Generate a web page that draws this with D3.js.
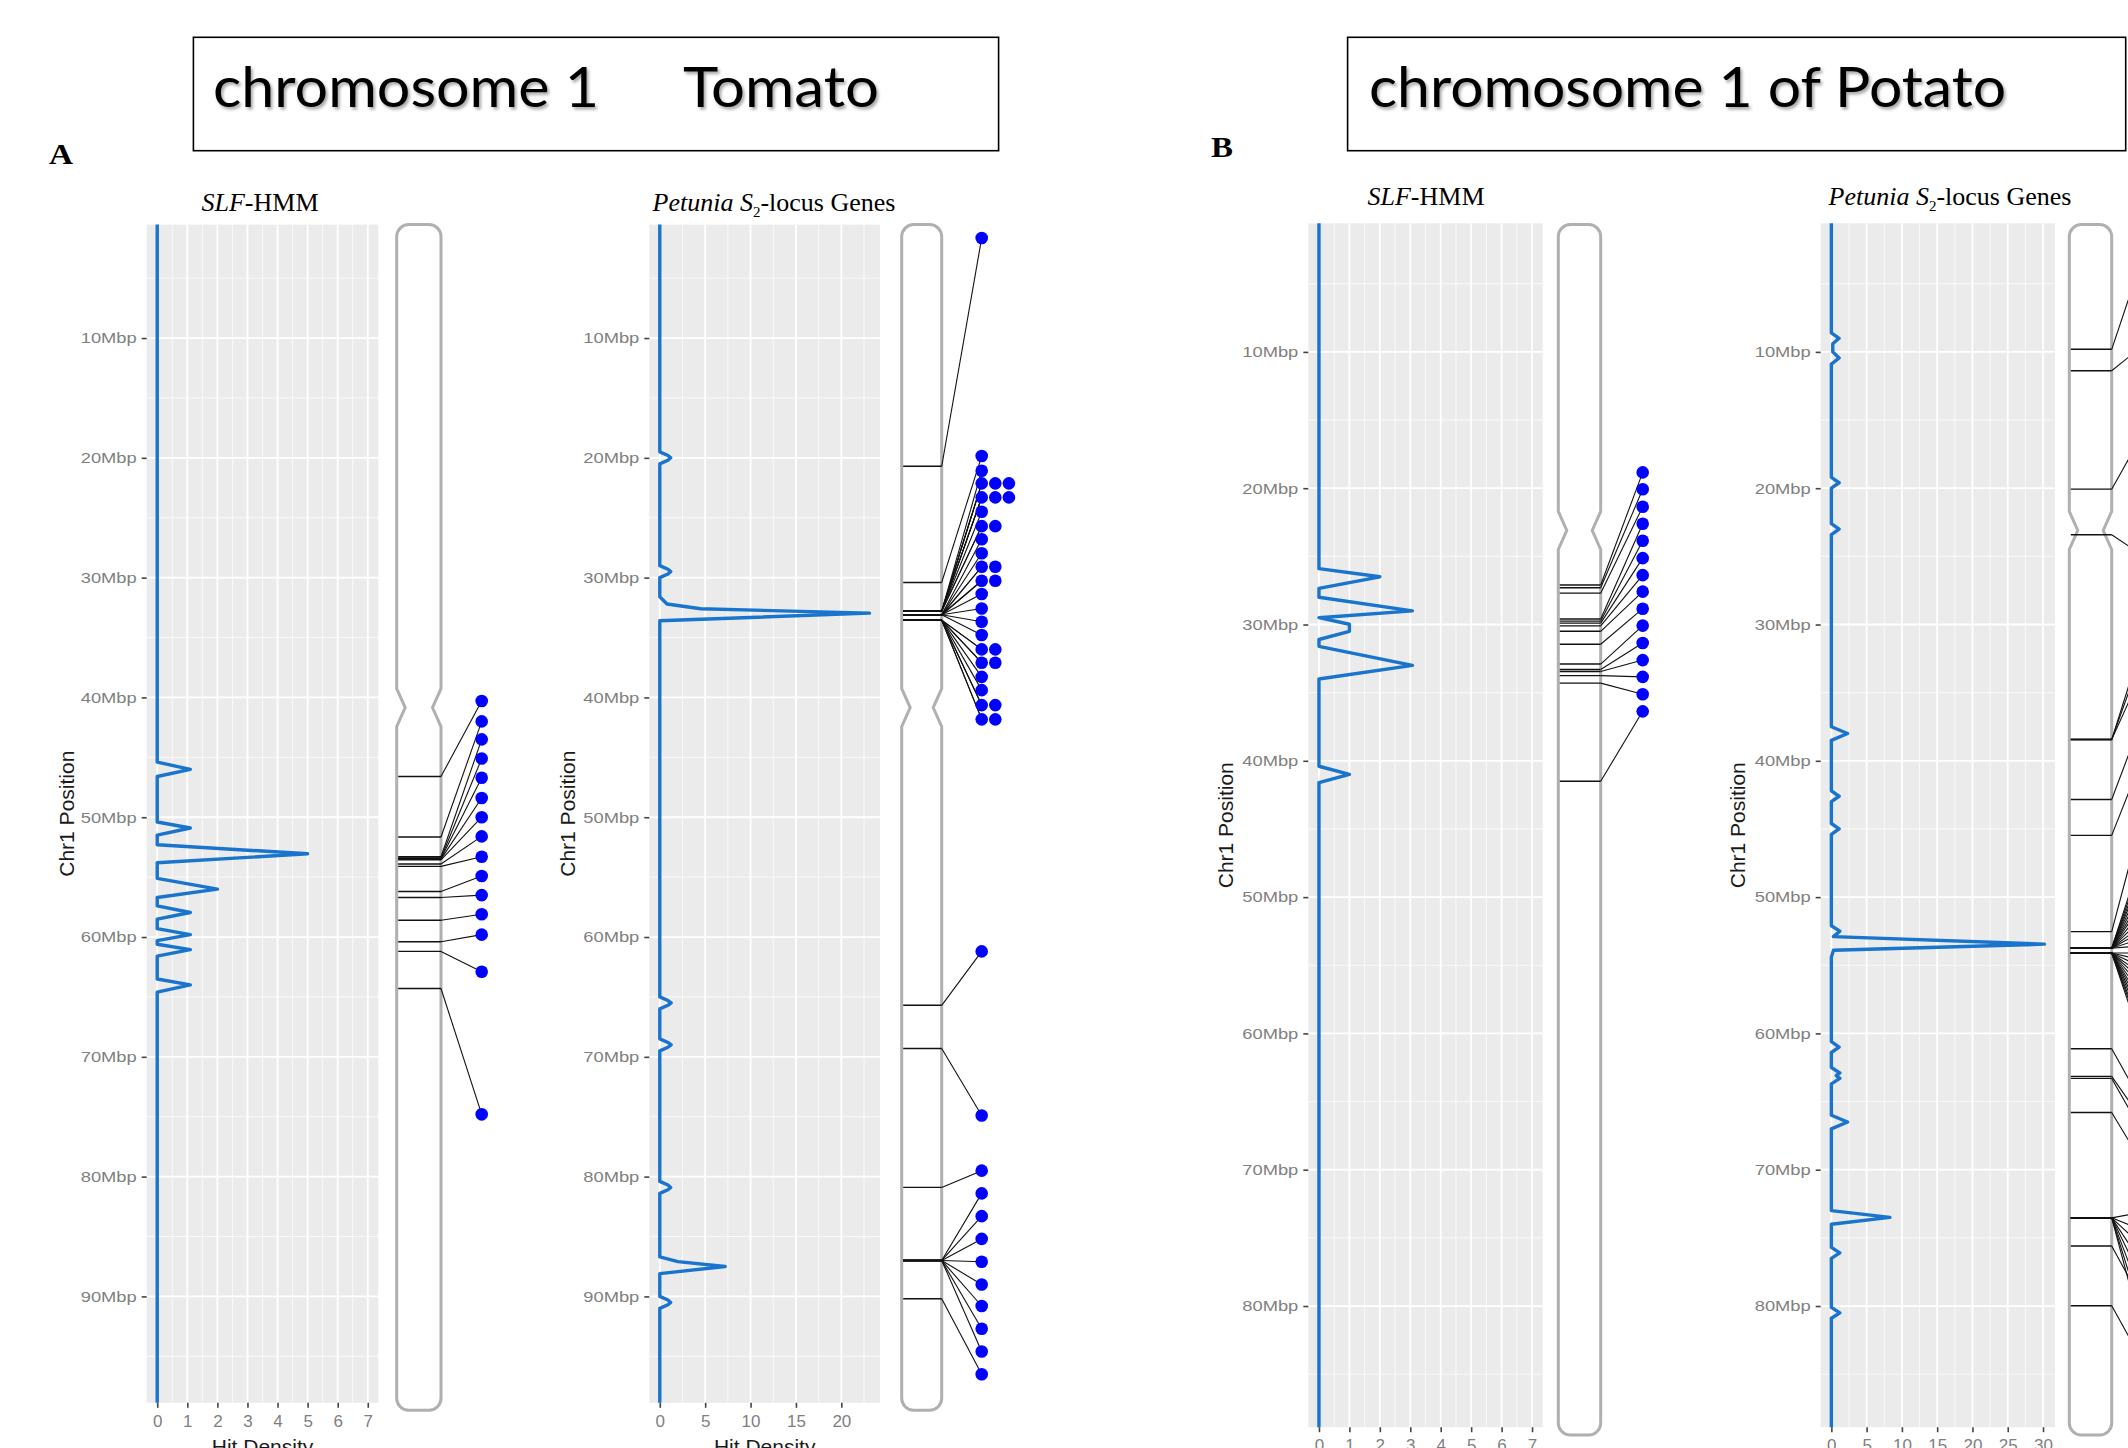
<!DOCTYPE html>
<html>
<head>
<meta charset="utf-8">
<script src="https://cdn.jsdelivr.net/npm/d3@7"></script>
<style>
  html, body { margin: 0; padding: 0; background: #fff; }
  svg { display: block; }
</style>
</head>
<body>
<div id="chart"></div>
<script>
// ---------- Data (positions in Mbp, densities in hits) ----------
const tomatoMbpTicks = [10, 20, 30, 40, 50, 60, 70, 80, 90];
const potatoMbpTicks = [10, 20, 30, 40, 50, 60, 70, 80];
const slfDensityTicks = [0, 1, 2, 3, 4, 5, 6, 7];
const tomatoPetuniaTicks = [0, 5, 10, 15, 20];
const potatoPetuniaTicks = [0, 5, 10, 15, 20, 25, 30];

// [position Mbp, hit density]
const tomatoSlfDensity = [
  [0.5, 0], [45.4, 0], [46.0, 1.1], [46.6, 0], [50.4, 0], [50.9, 1.1], [51.5, 0],
  [52.3, 0], [53.05, 5.0], [53.8, 0], [55.1, 0], [56.0, 2.0], [56.7, 0], [57.4, 0],
  [57.95, 1.1], [58.5, 0], [59.3, 0], [59.8, 1.1], [60.3, 0], [60.6, 0], [61.05, 1.1],
  [61.6, 0], [63.5, 0], [64.0, 1.1], [64.6, 0], [98.9, 0]
];
const tomatoPetuniaDensity = [
  [0.5, 0], [19.5, 0], [19.8, 0.9], [20.0, 1.2], [20.2, 0.9], [20.5, 0], [29.0, 0],
  [29.3, 0.9], [29.5, 1.2], [29.7, 0.9], [30.0, 0], [31.6, 0], [32.2, 0.8], [32.6, 4.5],
  [32.96, 23.1], [33.6, 0], [65.0, 0], [65.3, 0.9], [65.5, 1.25], [65.7, 0.9], [66.0, 0],
  [68.5, 0], [68.8, 0.9], [69.0, 1.25], [69.2, 0.9], [69.5, 0], [80.4, 0], [80.7, 0.9],
  [80.9, 1.2], [81.1, 0.9], [81.4, 0], [86.7, 0], [87.1, 2.0], [87.5, 7.2], [88.1, 0],
  [90.0, 0], [90.3, 0.9], [90.5, 1.2], [90.7, 0.9], [91.0, 0], [98.9, 0]
];
const potatoSlfDensity = [
  [0.6, 0], [25.9, 0], [26.5, 2.0], [27.35, 0], [28.0, 0], [29.0, 3.07], [29.5, 0],
  [29.98, 1.0], [30.5, 1.0], [31.1, 0], [31.6, 0], [33.0, 3.07], [34.0, 0], [40.4, 0],
  [41.0, 1.0], [41.6, 0], [88.9, 0]
];
const potatoPetuniaDensity = [
  [0.6, 0], [8.6, 0], [9.0, 1.1], [9.4, 0.2], [10.0, 0.2], [10.45, 1.1], [10.9, 0],
  [19.2, 0], [19.6, 1.1], [20.0, 0], [22.6, 0], [23.0, 1.1], [23.4, 0], [37.5, 0],
  [38.0, 2.3], [38.5, 0], [42.2, 0], [42.6, 1.1], [43.0, 0], [44.6, 0], [45.0, 1.1],
  [45.4, 0], [52.1, 0], [52.5, 1.2], [52.9, 0.3], [53.45, 30.2], [53.9, 0.3], [54.4, 0],
  [60.6, 0], [61.0, 1.1], [61.4, 0], [62.5, 0], [62.9, 1.2], [63.1, 0.7], [63.3, 1.2],
  [63.7, 0], [66.0, 0], [66.5, 2.3], [67.0, 0], [73.0, 0], [73.5, 8.3], [74.0, 0],
  [75.7, 0], [76.1, 1.2], [76.5, 0], [80.1, 0], [80.5, 1.2], [80.9, 0], [88.9, 0]
];

// gene positions on the chromosome, paired by index with label (dot) positions
const tomatoSlfGenes = [46.6, 51.65, 53.3, 53.4, 53.45, 53.5, 53.55, 53.9, 54.1, 56.2, 56.7, 58.6, 60.4, 61.2, 64.3];
const tomatoSlfLabels = [40.3, 42.0, 43.5, 45.1, 46.7, 48.4, 50.0, 51.6, 53.3, 54.9, 56.5, 58.1, 59.8, 62.9, 74.8];

const tomatoPetuniaGenes = [
  20.7, 30.4,
  32.8, 32.8, 32.8, 32.8, 32.8, 32.8, 32.8, 32.8, 32.8, 32.8,
  33.1, 33.1, 33.1, 33.1, 33.1, 33.1, 33.1, 33.1, 33.1, 33.1,
  33.55, 33.55, 33.55, 33.55, 33.55, 33.55, 33.55, 33.55, 33.55, 33.55,
  65.7, 69.3, 80.9,
  87.0, 87.0, 87.0, 87.0, 87.0, 87.0, 87.0, 87.0,
  90.2
];
const tomatoPetuniaLabels = [
  1.65, 19.85, 21.08, 22.13, 22.13, 22.13, 23.30, 23.30, 23.30, 24.50, 25.70, 25.70,
  26.80, 27.97, 29.09, 29.09, 30.26, 30.26, 31.37, 32.57, 33.68, 34.79, 35.99, 35.99,
  37.10, 37.10, 38.28, 39.39, 40.64, 40.64, 41.83, 41.83,
  61.2, 74.9, 79.5,
  81.4, 83.3, 85.2, 87.1, 89.0, 90.8, 92.7, 94.6,
  96.5
];

const potatoSlfGenes = [27.1, 27.3, 27.7, 29.6, 29.75, 29.9, 30.1, 30.5, 31.45, 32.9, 33.3, 33.45, 33.75, 34.3, 41.5];
const potatoSlfLabels = [18.84, 20.08, 21.36, 22.61, 23.85, 25.13, 26.38, 27.59, 28.84, 30.08, 31.36, 32.61, 33.84, 35.12, 36.37];

const potatoPetuniaGenes = [
  9.81, 11.38, 20.07, 23.41, 38.44, 38.44, 38.44, 42.84, 45.47, 52.53,
  53.75, 53.75, 53.75, 53.75, 53.75, 53.75, 53.75, 53.75, 53.75, 53.75, 53.75, 53.75, 53.75, 53.75,
  54.1, 54.1, 54.1, 54.1, 54.1, 54.1, 54.1, 54.1, 54.1, 54.1, 54.1, 54.1, 54.1, 54.1,
  61.12, 63.15, 63.3, 65.8,
  73.53, 73.53, 73.53, 73.53, 73.53, 73.53, 73.53, 73.53,
  75.6, 79.98
];
const potatoPetuniaLabels = [
  1.0, 9.0, 14.8, 25.4, 29.1, 30.2, 31.9, 35.0, 38.0, 41.4,
  44.7, 45.4, 46.1, 46.7, 47.4, 48.1, 48.8, 49.4, 50.1, 50.8, 51.5, 52.1, 52.8, 53.5,
  54.1, 54.8, 55.5, 56.2, 56.8, 57.5, 58.2, 58.9, 59.5, 60.2, 60.9, 61.6, 62.2, 62.9,
  66.4, 67.4, 68.5, 70.7,
  73.0, 74.7, 76.3, 78.0, 79.6, 81.3, 83.0, 84.6,
  81.0, 85.3
];

// chromosome extents and centromere (Mbp)
const tomatoChrom = { start: 0.53, end: 99.5, centromere: 40.85 };
const potatoChrom = { start: 0.66, end: 89.46, centromere: 23.1 };

// ---------- Layout ----------
const W = 2128, H = 1448;
const blue = "#1874cd";

const yTomato = d3.scaleLinear().domain([0.53, 98.88]).range([224.6, 1402.8]);
const yPotato = d3.scaleLinear().domain([0.565, 88.89]).range([223.3, 1427.2]);

const panels = [
  { id: "a1", y: yTomato, chrom: tomatoChrom, yTicks: tomatoMbpTicks,
    x0: 146.7, x1: 378.3, xDomain: [-0.35, 7.35], xTicks: slfDensityTicks,
    chromL: 396.7, chromR: 441, dotX: 481.7, labelX: 66, titleX: 260, titleY: 211,
    title: "slf", density: tomatoSlfDensity, genes: tomatoSlfGenes, labels: tomatoSlfLabels },
  { id: "a2", y: yTomato, chrom: tomatoChrom, yTicks: tomatoMbpTicks,
    x0: 649.3, x1: 880, xDomain: [-1.155, 24.26], xTicks: tomatoPetuniaTicks,
    chromL: 901.7, chromR: 941.7, dotX: 981.7, labelX: 567, titleX: 774, titleY: 211,
    title: "petunia", density: tomatoPetuniaDensity, genes: tomatoPetuniaGenes, labels: tomatoPetuniaLabels },
  { id: "b1", y: yPotato, chrom: potatoChrom, yTicks: potatoMbpTicks,
    x0: 1308.3, x1: 1542.7, xDomain: [-0.35, 7.35], xTicks: slfDensityTicks,
    chromL: 1558.3, chromR: 1600.7, dotX: 1642.7, labelX: 1225, titleX: 1426, titleY: 204.5,
    title: "slf", density: potatoSlfDensity, genes: potatoSlfGenes, labels: potatoSlfLabels },
  { id: "b2", y: yPotato, chrom: potatoChrom, yTicks: potatoMbpTicks,
    x0: 1820.7, x1: 2055, xDomain: [-1.51, 31.7], xTicks: potatoPetuniaTicks,
    chromL: 2069.3, chromR: 2111.7, dotX: 2152, labelX: 1737, titleX: 1950, titleY: 204.5,
    title: "petunia", density: potatoPetuniaDensity, genes: potatoPetuniaGenes, labels: potatoPetuniaLabels }
];

// ---------- SVG ----------
const svg = d3.select("#chart")
  .append("svg")
  .attr("width", W)
  .attr("height", H)
  .attr("viewBox", `0 0 ${W} ${H}`)
  .style("font-family", "'Liberation Sans', Arial, sans-serif");

svg.append("rect").attr("width", W).attr("height", H).attr("fill", "#fff");

const defs = svg.append("defs");
defs.append("filter")
  .attr("id", "shadow")
  .attr("x", "-5%").attr("y", "-20%").attr("width", "115%").attr("height", "150%")
  .append("feDropShadow")
  .attr("dx", 2).attr("dy", 2.5).attr("stdDeviation", 1.6)
  .attr("flood-color", "#000").attr("flood-opacity", 0.35);

// ---------- Header boxes ----------
const headers = [
  { x: 193.4, y: 37.3, w: 805.2, h: 113.4,
    parts: [{ text: "chromosome 1", x: 213, len: 386 }, { text: "Tomato", x: 683, len: 196 }] },
  { x: 1347.6, y: 37.3, w: 778.1, h: 113.4,
    parts: [{ text: "chromosome 1 of Potato", x: 1369, len: 637 }] }
];

headers.forEach(hd => {
  svg.append("rect")
    .attr("x", hd.x).attr("y", hd.y)
    .attr("width", hd.w).attr("height", hd.h)
    .attr("fill", "#fff").attr("stroke", "#000").attr("stroke-width", 1.6);
  hd.parts.forEach(pt => {
    svg.append("text")
      .attr("x", pt.x).attr("y", 107)
      .attr("textLength", pt.len)
      .attr("lengthAdjust", "spacingAndGlyphs")
      .attr("filter", "url(#shadow)")
      .style("font-family", "Lato, 'Open Sans', sans-serif")
      .style("font-size", "56px")
      .attr("fill", "#000")
      .text(pt.text);
  });
});

// panel letters
[{ t: "A", x: 49, y: 164, len: 24 }, { t: "B", x: 1211, y: 157, len: 22 }].forEach(l => {
  svg.append("text")
    .attr("x", l.x).attr("y", l.y)
    .attr("textLength", l.len).attr("lengthAdjust", "spacingAndGlyphs")
    .style("font-family", "'Liberation Serif', 'Times New Roman', serif")
    .style("font-weight", "bold")
    .style("font-size", "29px")
    .text(l.t);
});

// ---------- Helpers ----------
function chromPath(l, r, t, b, c) {
  const R = 12, nd = 8.5, nh = 19;
  return `M${l},${t + R} A${R},${R} 0 0 1 ${l + R},${t} L${r - R},${t} A${R},${R} 0 0 1 ${r},${t + R}` +
    ` L${r},${c - nh} L${r - nd},${c} L${r},${c + nh} L${r},${b - R}` +
    ` A${R},${R} 0 0 1 ${r - R},${b} L${l + R},${b} A${R},${R} 0 0 1 ${l},${b - R}` +
    ` L${l},${c + nh} L${l + nd},${c} L${l},${c - nh} Z`;
}

function minorBetween(ticks, domain) {
  const lo = Math.min(...domain), hi = Math.max(...domain);
  const step = ticks[1] - ticks[0];
  const out = [ticks[0] - step / 2, ...ticks.map(t => t + step / 2)];
  return out.filter(v => v > lo && v < hi);
}

// ---------- Panels ----------
panels.forEach(p => {
  const y = p.y;
  const x = d3.scaleLinear().domain(p.xDomain).range([p.x0, p.x1]);
  const [top, bottom] = y.range();
  const g = svg.append("g").attr("class", "panel-" + p.id);

  // background
  g.append("rect")
    .attr("x", p.x0).attr("y", top)
    .attr("width", p.x1 - p.x0).attr("height", bottom - top)
    .attr("fill", "#ebebeb");

  // grid: minor then major
  const yMinor = minorBetween(p.yTicks, y.domain());
  const xMinor = minorBetween(p.xTicks, p.xDomain);

  g.append("g").selectAll("line").data(yMinor).enter().append("line")
    .attr("x1", p.x0).attr("x2", p.x1)
    .attr("y1", d => y(d)).attr("y2", d => y(d))
    .attr("stroke", "#fff").attr("stroke-width", 0.9).attr("opacity", 0.8);
  g.append("g").selectAll("line").data(xMinor).enter().append("line")
    .attr("y1", top).attr("y2", bottom)
    .attr("x1", d => x(d)).attr("x2", d => x(d))
    .attr("stroke", "#fff").attr("stroke-width", 0.9).attr("opacity", 0.8);
  g.append("g").selectAll("line").data(p.yTicks).enter().append("line")
    .attr("x1", p.x0).attr("x2", p.x1)
    .attr("y1", d => y(d)).attr("y2", d => y(d))
    .attr("stroke", "#fff").attr("stroke-width", 1.8);
  g.append("g").selectAll("line").data(p.xTicks).enter().append("line")
    .attr("y1", top).attr("y2", bottom)
    .attr("x1", d => x(d)).attr("x2", d => x(d))
    .attr("stroke", "#fff").attr("stroke-width", 1.8);

  // density line
  const clipId = "clip-" + p.id;
  defs.append("clipPath").attr("id", clipId)
    .append("rect")
    .attr("x", p.x0).attr("y", top)
    .attr("width", p.x1 - p.x0).attr("height", bottom - top);

  const line = d3.line()
    .x(d => x(d[1]))
    .y(d => y(d[0]));

  g.append("path")
    .datum(p.density)
    .attr("clip-path", `url(#${clipId})`)
    .attr("d", line)
    .attr("fill", "none")
    .attr("stroke", blue)
    .attr("stroke-width", 3.4)
    .attr("stroke-linejoin", "round")
    .attr("stroke-linecap", "round");

  // axes
  const yAxis = g.append("g")
    .attr("transform", `translate(${p.x0},0)`)
    .call(d3.axisLeft(y).tickValues(p.yTicks).tickFormat(d => d + "Mbp").tickSize(5).tickPadding(5));
  yAxis.select(".domain").remove();
  yAxis.selectAll(".tick line").attr("stroke", "#444").attr("stroke-width", 1.6);
  yAxis.selectAll(".tick text")
    .attr("fill", "#7f7f7f")
    .style("font-size", "15px")
    .style("font-family", "'Liberation Sans', Arial, sans-serif")
    .attr("textLength", d => (d + "Mbp").length * 11.2)
    .attr("lengthAdjust", "spacingAndGlyphs");

  const xAxis = g.append("g")
    .attr("transform", `translate(0,${bottom})`)
    .call(d3.axisBottom(x).tickValues(p.xTicks).tickSize(5).tickPadding(7));
  xAxis.select(".domain").remove();
  xAxis.selectAll(".tick line").attr("stroke", "#444").attr("stroke-width", 1.6);
  xAxis.selectAll(".tick text")
    .attr("fill", "#7f7f7f")
    .style("font-size", "17px")
    .style("font-family", "'Liberation Sans', Arial, sans-serif");

  // axis titles
  g.append("text")
    .attr("transform", `translate(${p.labelX},${(top + bottom) / 2}) rotate(-90)`)
    .attr("text-anchor", "middle")
    .attr("dominant-baseline", "central")
    .attr("fill", "#1a1a1a")
    .style("font-size", "21px")
    .text("Chr1 Position");

  g.append("text")
    .attr("x", (p.x0 + p.x1) / 2)
    .attr("y", bottom + 51)
    .attr("text-anchor", "middle")
    .attr("fill", "#1a1a1a")
    .style("font-size", "21px")
    .text("Hit Density");

  // panel title
  const title = g.append("text")
    .attr("x", p.titleX).attr("y", p.titleY)
    .attr("text-anchor", "middle")
    .style("font-family", "'Liberation Serif', 'Times New Roman', serif")
    .style("font-size", "26px")
    .attr("fill", "#000");
  if (p.title === "slf") {
    title.append("tspan").style("font-style", "italic").text("SLF");
    title.append("tspan").text("-HMM");
  } else {
    title.append("tspan").style("font-style", "italic").text("Petunia S");
    title.append("tspan").attr("dy", 6).style("font-size", "15px").text("2");
    title.append("tspan").attr("dy", -6).text("-locus Genes");
  }

  // chromosome ideogram
  const cTop = y(p.chrom.start), cBot = y(p.chrom.end), cMid = y(p.chrom.centromere);
  g.append("path")
    .attr("d", chromPath(p.chromL, p.chromR, cTop, cBot, cMid))
    .attr("fill", "#fff")
    .attr("stroke", "#b0b0b0")
    .attr("stroke-width", 3);

  // gene marks, connectors and labels
  const seen = new Map();
  const links = p.genes.map((gpos, i) => {
    const lab = p.labels[i];
    const col = seen.get(lab) || 0;
    seen.set(lab, col + 1);
    return { gene: gpos, label: lab, col };
  });

  g.append("g").selectAll("line").data(links).enter().append("line")
    .attr("x1", p.chromL + 1.5).attr("x2", p.chromR)
    .attr("y1", d => y(d.gene)).attr("y2", d => y(d.gene))
    .attr("stroke", "#111").attr("stroke-width", 1.4);

  g.append("g").selectAll("line").data(links).enter().append("line")
    .attr("x1", p.chromR).attr("y1", d => y(d.gene))
    .attr("x2", p.dotX).attr("y2", d => y(d.label))
    .attr("stroke", "#111").attr("stroke-width", 1.1);

  g.append("g").selectAll("circle").data(links).enter().append("circle")
    .attr("cx", d => p.dotX + d.col * 13.6)
    .attr("cy", d => y(d.label))
    .attr("r", 6.3)
    .attr("fill", "#0000ff");
});
</script>
</body>
</html>
